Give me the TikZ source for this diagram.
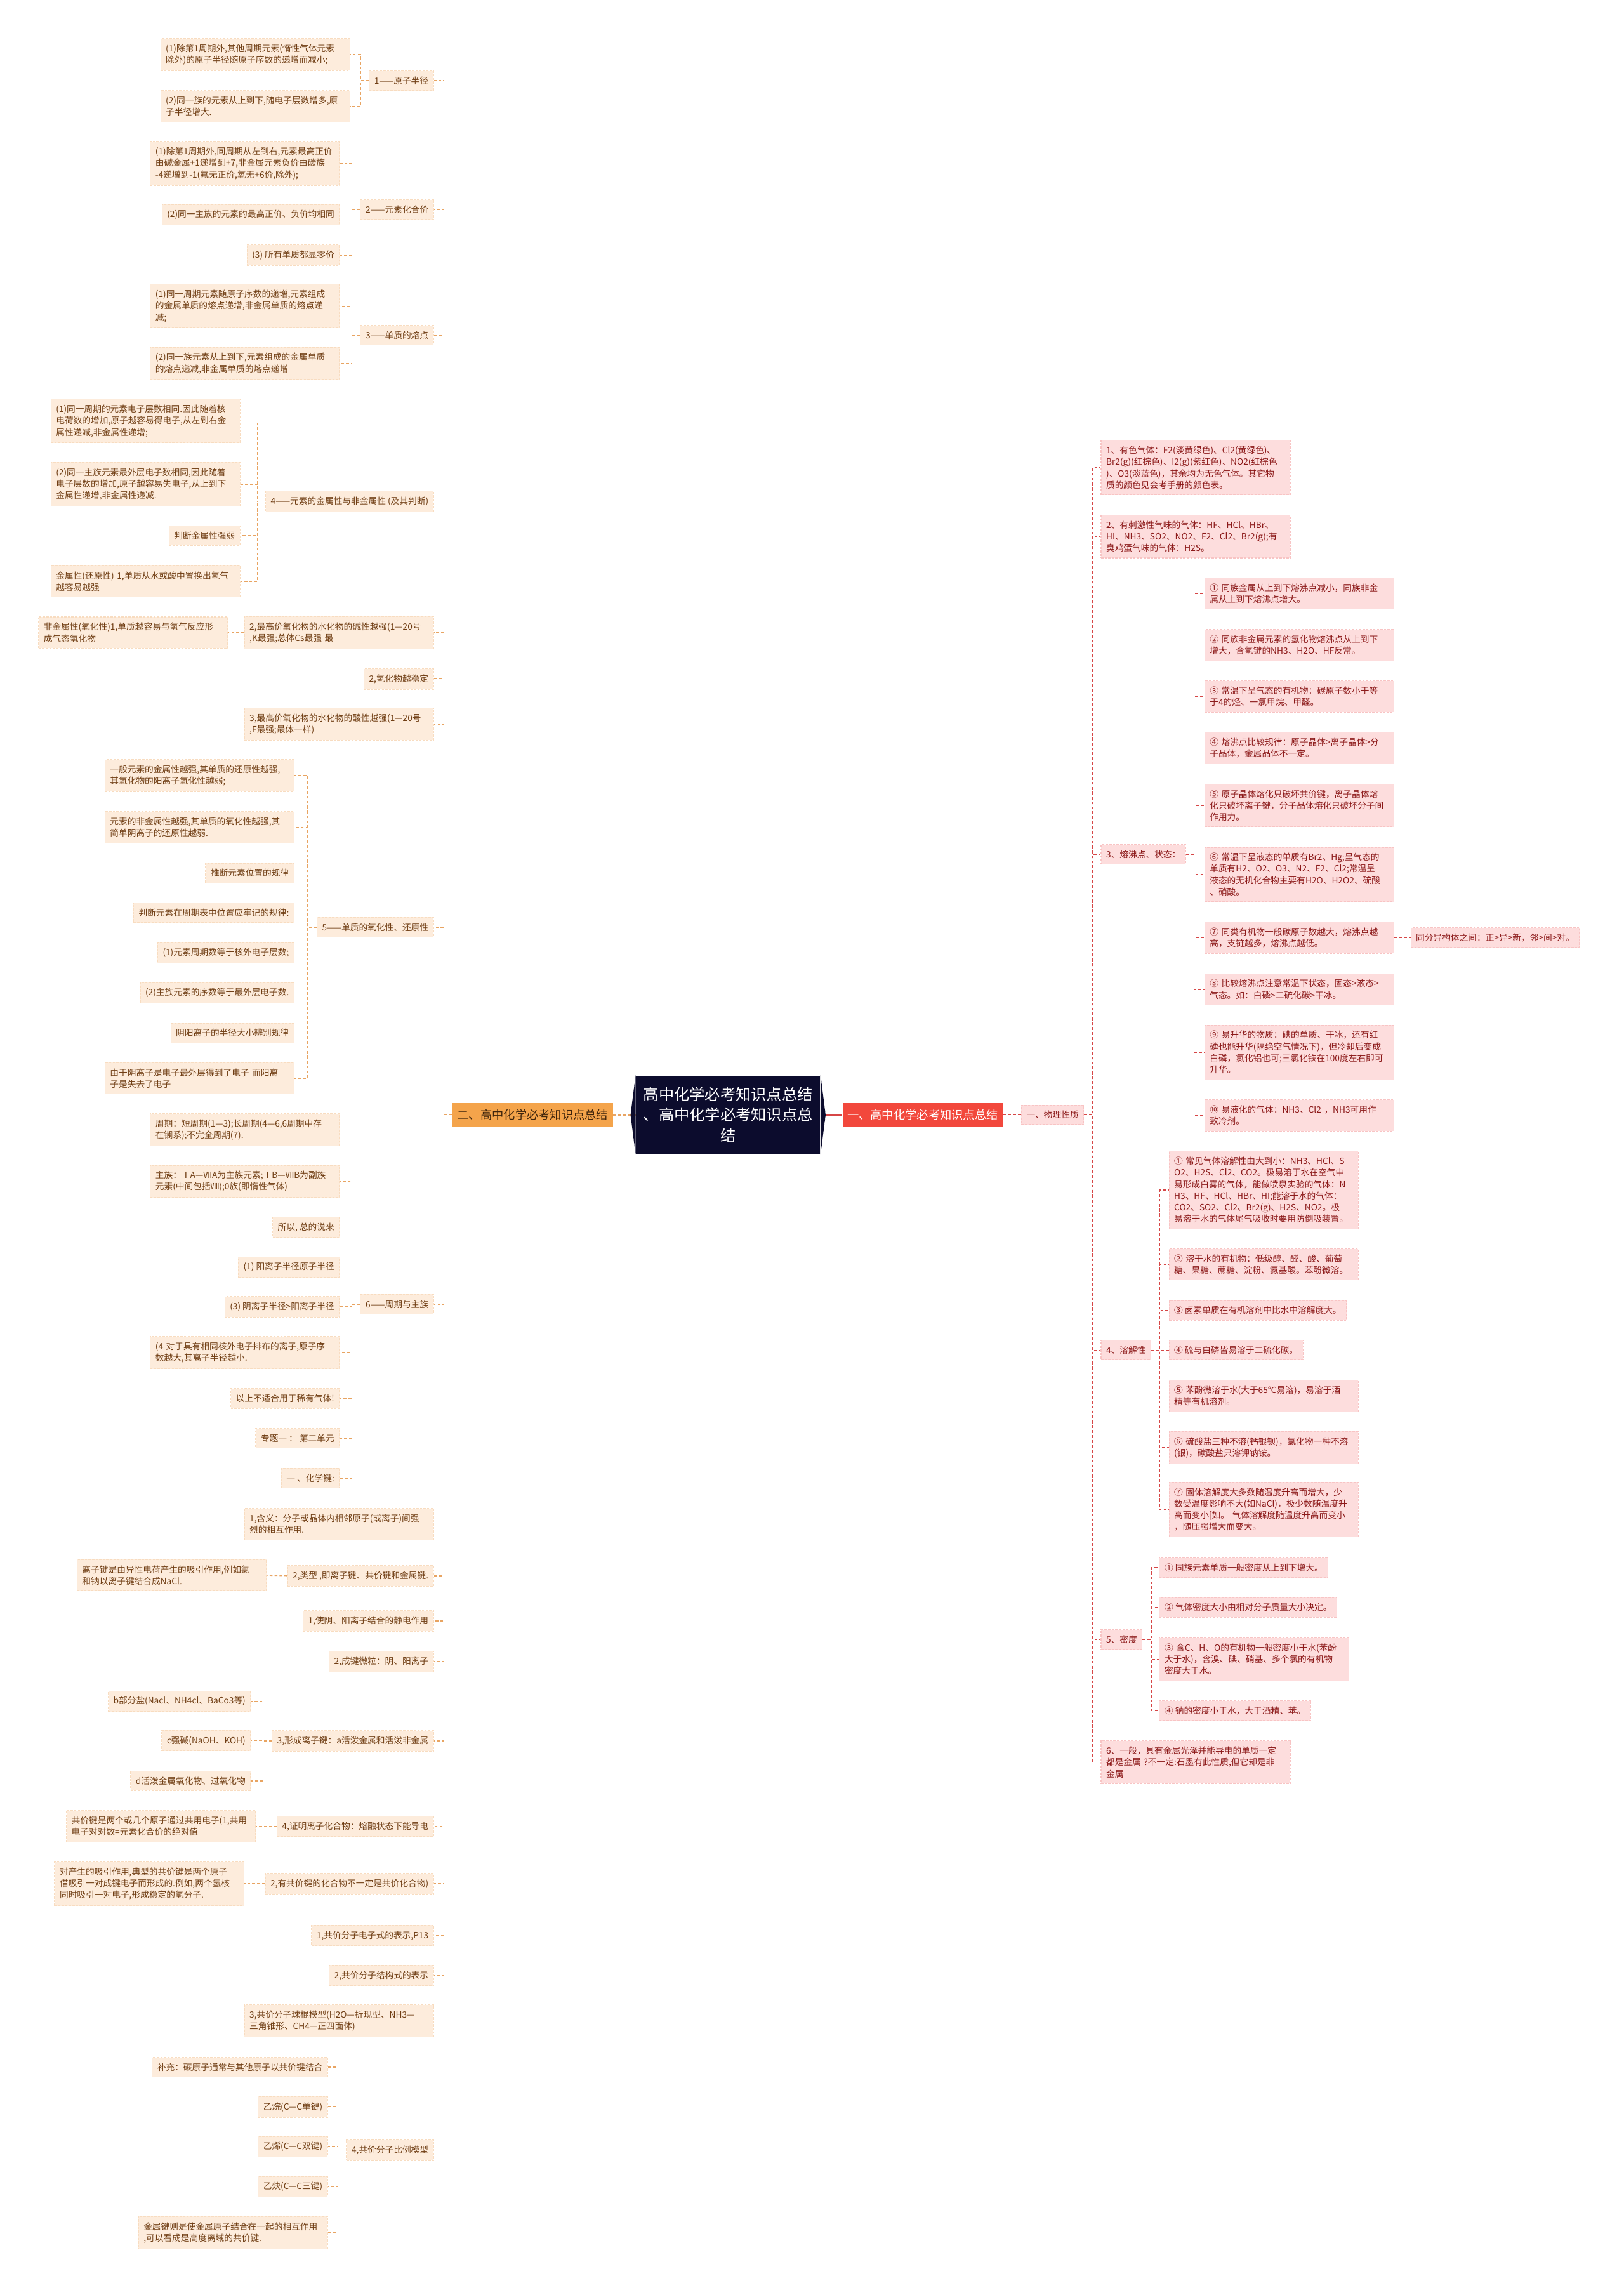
\documentclass[tikz,border=0pt]{standalone}
\usepackage{fontspec}
\setmainfont{Noto Sans CJK SC}
\definecolor{peachc}{RGB}{253,236,220}
\definecolor{peachline}{RGB}{248,220,192}
\definecolor{browntext}{RGB}{112,62,20}
\definecolor{linkbrown}{RGB}{232,164,98}
\definecolor{orangec}{RGB}{244,164,75}
\definecolor{orangetext}{RGB}{62,36,12}
\definecolor{pinkc}{RGB}{253,221,221}
\definecolor{pinkline}{RGB}{248,196,196}
\definecolor{redtext}{RGB}{140,25,25}
\definecolor{linkred}{RGB}{214,70,70}
\definecolor{redc}{RGB}{242,72,60}
\definecolor{rootc}{RGB}{12,12,45}

\begin{document}
\begin{tikzpicture}[x=0.023cm, y=-0.023cm,
  leafL/.style={fill=peachc, draw=peachline, dash pattern=on 1pt off 0.6pt, line width=0.3pt, text=browntext,
    font=\fontsize{3.9}{5.2}\selectfont, inner xsep=2.3pt, inner ysep=2.6pt, anchor=east},
  wideL/.style={leafL, text width=2.82cm, align=left},
  leafR/.style={leafL, fill=pinkc, draw=pinkline, text=redtext, anchor=west},
  wideR/.style={leafR, text width=2.82cm, align=left},
  topL/.style={fill=orangec, text=orangetext, font=\fontsize{5.2}{6}\selectfont, inner xsep=2.1pt, inner ysep=2.8pt, anchor=east},
  topR/.style={topL, fill=redc, text=white, anchor=west},
  rootbox/.style={fill=rootc, text=white, font=\fontsize{6.9}{9.2}\selectfont, align=center, text width=2.72cm,
    minimum width=2.9cm, minimum height=1.24cm, inner sep=0pt},
  lnkL/.style={draw=linkbrown, dash pattern=on 1.3pt off 0.9pt, line width=0.4pt},
  lnkR/.style={lnkL, draw=linkred}]

\fill[white] (0,0) rectangle (1113,1568);
\useasboundingbox (0,0) rectangle (1113,1568);

% --- 中心主题 ---
\node[rootbox] (root) at (499,764) {高中化学必考知识点总结\\、高中化学必考知识点总\\结};
\node[topL] (l2) at (420.3,764) {二、高中化学必考知识点总结};
\node[topR] (l1) at (577.2,764) {一、高中化学必考知识点总结};
\draw[lnkL, line width=0.6pt] (root.west) -- (l2.east);
\draw[lnkR, line width=0.6pt, solid] (root.east) -- (l1.west);
\fill[rootc] (root.north west) -- ([xshift=-0.08cm]root.west) -- (root.south west) -- cycle;
\fill[rootc] (root.north east) -- ([xshift=0.08cm]root.east) -- (root.south east) -- cycle;

% --- 左侧：1——原子半径 ---
\node[wideL] (a1) at (240,37.4) {(1)除第1周期外,其他周期元素(惰性气体元素\\除外)的原子半径随原子序数的递增而减小;};
\node[wideL] (a2) at (240,72.9) {(2)同一族的元素从上到下,随电子层数增多,原\\子半径增大.};
\node[leafL] (g1) at (297.4,55.3) {1——原子半径};
\draw[lnkL] (g1.west) -- ++(-5.7,0) |- (a1.east);
\draw[lnkL] (g1.west) -- ++(-5.7,0) |- (a2.east);

% 2——元素化合价
\node[wideL] (b1) at (232.9,112) {(1)除第1周期外,同周期从左到右,元素最高正价\\由碱金属+1递增到+7,非金属元素负价由碳族\\-4递增到-1(氟无正价,氧无+6价,除外);};
\node[leafL] (b2) at (232.9,147.2) {(2)同一主族的元素的最高正价、负价均相同};
\node[leafL] (b3) at (232.9,174.8) {(3) 所有单质都显零价};
\node[leafL] (g2) at (297.4,143.6) {2——元素化合价};
\draw[lnkL] (g2.west) -- ++(-5.7,0) |- (b1.east);
\draw[lnkL] (g2.west) -- ++(-5.7,0) |- (b2.east);
\draw[lnkL] (g2.west) -- ++(-5.7,0) |- (b3.east);

% 3——单质的熔点
\node[wideL] (c1) at (232.9,209.8) {(1)同一周期元素随原子序数的递增,元素组成\\的金属单质的熔点递增,非金属单质的熔点递\\减;};
\node[wideL] (c2) at (232.9,249) {(2)同一族元素从上到下,元素组成的金属单质\\的熔点递减,非金属单质的熔点递增};
\node[leafL] (g3) at (297.4,229.8) {3——单质的熔点};
\draw[lnkL] (g3.west) -- ++(-5.7,0) |- (c1.east);
\draw[lnkL] (g3.west) -- ++(-5.7,0) |- (c2.east);

% 4——元素的金属性与非金属性
\node[wideL] (d1) at (164.8,288.5) {(1)同一周期的元素电子层数相同.因此随着核\\电荷数的增加,原子越容易得电子,从左到右金\\属性递减,非金属性递增;};
\node[wideL] (d2) at (164.8,331.8) {(2)同一主族元素最外层电子数相同,因此随着\\电子层数的增加,原子越容易失电子,从上到下\\金属性递增,非金属性递减.};
\node[leafL] (d3) at (164.8,367) {判断金属性强弱};
\node[wideL] (d4) at (164.8,398.4) {金属性(还原性) 1,单质从水或酸中置换出氢气\\越容易越强};
\node[leafL] (g4) at (297.4,343.5) {4——元素的金属性与非金属性 (及其判断)};
\draw[lnkL] (g4.west) -- ++(-5.2,0) |- (d1.east);
\draw[lnkL] (g4.west) -- ++(-5.2,0) |- (d2.east);
\draw[lnkL] (g4.west) -- ++(-5.2,0) |- (d3.east);
\draw[lnkL] (g4.west) -- ++(-5.2,0) |- (d4.east);

% 碱性、氢化物、酸性
\node[wideL] (g5a) at (297.4,433.5) {2,最高价氧化物的水化物的碱性越强(1—20号\\,K最强;总体Cs最强 最};
\node[wideL] (e1) at (156.3,433.5) {非金属性(氧化性)1,单质越容易与氢气反应形\\成气态氢化物};
\draw[lnkL] (g5a.west) -- (e1.east);
\node[leafL] (g5b) at (297.4,465.3) {2,氢化物越稳定};
\node[wideL] (g5c) at (297.4,496.3) {3,最高价氧化物的水化物的酸性越强(1—20号\\,F最强;最体一样)};

% 5——单质的氧化性、还原性
\node[wideL] (f1) at (201.8,531.5) {一般元素的金属性越强,其单质的还原性越强,\\其氧化物的阳离子氧化性越弱;};
\node[wideL] (f2) at (201.8,567) {元素的非金属性越强,其单质的氧化性越强,其\\简单阴离子的还原性越弱.};
\node[leafL] (f3) at (201.8,598.3) {推断元素位置的规律};
\node[leafL] (f4) at (201.8,625.6) {判断元素在周期表中位置应牢记的规律:};
\node[leafL] (f5) at (201.8,653) {(1)元素周期数等于核外电子层数;};
\node[leafL] (f6) at (201.8,680.4) {(2)主族元素的序数等于最外层电子数.};
\node[leafL] (f7) at (201.8,707.9) {阴阳离子的半径大小辨别规律};
\node[wideL] (f8) at (201.8,739) {由于阴离子是电子最外层得到了电子 而阳离\\子是失去了电子};
\node[leafL] (g6) at (297.4,635.4) {5——单质的氧化性、还原性};
\draw[lnkL] (g6.west) -- ++(-6.1,0) |- (f1.east);
\draw[lnkL] (g6.west) -- ++(-6.1,0) |- (f2.east);
\draw[lnkL] (g6.west) -- ++(-6.1,0) |- (f3.east);
\draw[lnkL] (g6.west) -- ++(-6.1,0) |- (f4.east);
\draw[lnkL] (g6.west) -- ++(-6.1,0) |- (f5.east);
\draw[lnkL] (g6.west) -- ++(-6.1,0) |- (f6.east);
\draw[lnkL] (g6.west) -- ++(-6.1,0) |- (f7.east);
\draw[lnkL] (g6.west) -- ++(-6.1,0) |- (f8.east);

% 6——周期与主族
\node[wideL] (h1) at (232.9,774.3) {周期：短周期(1—3);长周期(4—6,6周期中存\\在镧系);不完全周期(7).};
\node[wideL] (h2) at (232.9,809.6) {主族：ⅠA—ⅦA为主族元素;ⅠB—ⅦB为副族\\元素(中间包括Ⅷ);0族(即惰性气体)};
\node[leafL] (h3) at (232.9,841) {所以, 总的说来};
\node[leafL] (h4) at (232.9,868.3) {(1) 阳离子半径原子半径};
\node[leafL] (h5) at (232.9,895.6) {(3) 阴离子半径>阳离子半径};
\node[wideL] (h6) at (232.9,927) {(4 对于具有相同核外电子排布的离子,原子序\\数越大,其离子半径越小.};
\node[leafL] (h7) at (232.9,958.4) {以上不适合用于稀有气体!};
\node[leafL] (h8) at (232.9,985.7) {专题一 ： 第二单元};
\node[leafL] (h9) at (232.9,1013) {一 、化学键:};
\node[leafL] (g7) at (297.4,893.8) {6——周期与主族};
\draw[lnkL] (g7.west) -- ++(-5.7,0) |- (h1.east);
\draw[lnkL] (g7.west) -- ++(-5.7,0) |- (h2.east);
\draw[lnkL] (g7.west) -- ++(-5.7,0) |- (h3.east);
\draw[lnkL] (g7.west) -- ++(-5.7,0) |- (h4.east);
\draw[lnkL] (g7.west) -- ++(-5.7,0) |- (h5.east);
\draw[lnkL] (g7.west) -- ++(-5.7,0) |- (h6.east);
\draw[lnkL] (g7.west) -- ++(-5.7,0) |- (h7.east);
\draw[lnkL] (g7.west) -- ++(-5.7,0) |- (h8.east);
\draw[lnkL] (g7.west) -- ++(-5.7,0) |- (h9.east);

% 化学键
\node[wideL] (i1) at (297.4,1044.5) {1,含义：分子或晶体内相邻原子(或离子)间强\\烈的相互作用.};
\node[leafL] (i2) at (297.4,1079.9) {2,类型 ,即离子键、共价键和金属键.};
\node[wideL] (j1) at (182.7,1079.6) {离子键是由异性电荷产生的吸引作用,例如氯\\和钠以离子键结合成NaCl.};
\draw[lnkL] (i2.west) -- (j1.east);
\node[leafL] (i3) at (297.4,1110.9) {1,使阴、阳离子结合的静电作用};
\node[leafL] (i4) at (297.4,1138.7) {2,成键微粒：阴、阳离子};
\node[leafL] (i5) at (297.4,1193) {3,形成离子键：a活泼金属和活泼非金属};
\node[leafL] (k1) at (172,1165.8) {b部分盐(Nacl、NH4cl、BaCo3等)};
\node[leafL] (k2) at (172,1192.9) {c强碱(NaOH、KOH)};
\node[leafL] (k3) at (172,1220.4) {d活泼金属氧化物、过氧化物};
\draw[lnkL] (i5.west) -- ++(-5.9,0) |- (k1.east);
\draw[lnkL] (i5.west) -- ++(-5.9,0) |- (k2.east);
\draw[lnkL] (i5.west) -- ++(-5.9,0) |- (k3.east);
\node[leafL] (i6) at (297.4,1251.6) {4,证明离子化合物：熔融状态下能导电};
\node[wideL] (l3) at (175.4,1251.6) {共价键是两个或几个原子通过共用电子(1,共用\\电子对对数=元素化合价的绝对值};
\draw[lnkL] (i6.west) -- (l3.east);
\node[leafL] (i7) at (297.4,1291) {2,有共价键的化合物不一定是共价化合物)};
\node[wideL] (m1) at (167.3,1291) {对产生的吸引作用,典型的共价键是两个原子\\借吸引一对成键电子而形成的.例如,两个氢核\\同时吸引一对电子,形成稳定的氢分子.};
\draw[lnkL] (i7.west) -- (m1.east);
\node[leafL] (i8) at (297.4,1326.4) {1,共价分子电子式的表示,P13};
\node[leafL] (i9) at (297.4,1353.8) {2,共价分子结构式的表示};
\node[wideL] (i10) at (297.4,1385) {3,共价分子球棍模型(H2O—折现型、NH3—\\三角锥形、CH4—正四面体)};
\node[leafL] (i11) at (297.4,1473.5) {4,共价分子比例模型};
\node[leafL] (n1) at (224.8,1416.7) {补充：碳原子通常与其他原子以共价键结合};
\node[leafL] (n2) at (224.8,1443.9) {乙烷(C—C单键)};
\node[leafL] (n3) at (224.8,1471.1) {乙烯(C—C双键)};
\node[leafL] (n4) at (224.8,1498.5) {乙炔(C—C三键)};
\node[wideL] (n5) at (224.8,1530) {金属键则是使金属原子结合在一起的相互作用\\,可以看成是高度离域的共价键.};
\draw[lnkL] (i11.west) -- ++(-5.6,0) |- (n1.east);
\draw[lnkL] (i11.west) -- ++(-5.6,0) |- (n2.east);
\draw[lnkL] (i11.west) -- ++(-5.6,0) |- (n3.east);
\draw[lnkL] (i11.west) -- ++(-5.6,0) |- (n4.east);
\draw[lnkL] (i11.west) -- ++(-5.6,0) |- (n5.east);

% 左侧主干
\draw[lnkL] (l2.west) -- ++(-5.7,0) |- (g1.east);
\draw[lnkL] (l2.west) -- ++(-5.7,0) |- (g2.east);
\draw[lnkL] (l2.west) -- ++(-5.7,0) |- (g3.east);
\draw[lnkL] (l2.west) -- ++(-5.7,0) |- (g4.east);
\draw[lnkL] (l2.west) -- ++(-5.7,0) |- (g5a.east);
\draw[lnkL] (l2.west) -- ++(-5.7,0) |- (g5b.east);
\draw[lnkL] (l2.west) -- ++(-5.7,0) |- (g5c.east);
\draw[lnkL] (l2.west) -- ++(-5.7,0) |- (g6.east);
\draw[lnkL] (l2.west) -- ++(-5.7,0) |- (g7.east);
\draw[lnkL] (l2.west) -- ++(-5.7,0) |- (i1.east);
\draw[lnkL] (l2.west) -- ++(-5.7,0) |- (i2.east);
\draw[lnkL] (l2.west) -- ++(-5.7,0) |- (i3.east);
\draw[lnkL] (l2.west) -- ++(-5.7,0) |- (i4.east);
\draw[lnkL] (l2.west) -- ++(-5.7,0) |- (i5.east);
\draw[lnkL] (l2.west) -- ++(-5.7,0) |- (i6.east);
\draw[lnkL] (l2.west) -- ++(-5.7,0) |- (i7.east);
\draw[lnkL] (l2.west) -- ++(-5.7,0) |- (i8.east);
\draw[lnkL] (l2.west) -- ++(-5.7,0) |- (i9.east);
\draw[lnkL] (l2.west) -- ++(-5.7,0) |- (i10.east);
\draw[lnkL] (l2.west) -- ++(-5.7,0) |- (i11.east);

% --- 右侧：一、物理性质 ---
\node[leafR] (r0) at (699.8,764) {一、物理性质};
\draw[lnkR] (l1.east) -- (r0.west);
\node[wideR] (r1) at (754.4,320.5) {1、有色气体：F2(淡黄绿色)、Cl2(黄绿色)、\\Br2(g)(红棕色)、I2(g)(紫红色)、NO2(红棕色\\)、O3(淡蓝色)，其余均为无色气体。其它物\\质的颜色见会考手册的颜色表。};
\node[wideR] (r2) at (754.4,367.6) {2、有刺激性气味的气体：HF、HCl、HBr、\\HI、NH3、SO2、NO2、F2、Cl2、Br2(g);有\\臭鸡蛋气味的气体：H2S。};
\node[leafR] (r3) at (754.4,585.6) {3、熔沸点、状态：};
\node[leafR] (r4) at (754.4,925.3) {4、溶解性};
\node[leafR] (r5) at (754.4,1123.5) {5、密度};
\node[wideR] (r6) at (754.4,1207.7) {6、一般，具有金属光泽并能导电的单质一定\\都是金属 ?不一定:石墨有此性质,但它却是非\\金属};
\draw[lnkR] (r0.east) -- ++(5.8,0) |- (r1.west);
\draw[lnkR] (r0.east) -- ++(5.8,0) |- (r2.west);
\draw[lnkR] (r0.east) -- ++(5.8,0) |- (r3.west);
\draw[lnkR] (r0.east) -- ++(5.8,0) |- (r4.west);
\draw[lnkR] (r0.east) -- ++(5.8,0) |- (r5.west);
\draw[lnkR] (r0.east) -- ++(5.8,0) |- (r6.west);

% 3、熔沸点、状态
\node[wideR] (s1) at (825.4,406.7) {① 同族金属从上到下熔沸点减小，同族非金\\属从上到下熔沸点增大。};
\node[wideR] (s2) at (825.4,442.2) {② 同族非金属元素的氢化物熔沸点从上到下\\增大，含氢键的NH3、H2O、HF反常。};
\node[wideR] (s3) at (825.4,477.4) {③ 常温下呈气态的有机物：碳原子数小于等\\于4的烃、一氯甲烷、甲醛。};
\node[wideR] (s4) at (825.4,512.6) {④ 熔沸点比较规律：原子晶体>离子晶体>分\\子晶体，金属晶体不一定。};
\node[wideR] (s5) at (825.4,552) {⑤ 原子晶体熔化只破坏共价键，离子晶体熔\\化只破坏离子键，分子晶体熔化只破坏分子间\\作用力。};
\node[wideR] (s6) at (825.4,599.3) {⑥ 常温下呈液态的单质有Br2、Hg;呈气态的\\单质有H2、O2、O3、N2、F2、Cl2;常温呈\\液态的无机化合物主要有H2O、H2O2、硫酸\\、硝酸。};
\node[wideR] (s7) at (825.4,642.5) {⑦ 同类有机物一般碳原子数越大，熔沸点越\\高，支链越多，熔沸点越低。};
\node[leafR] (t1) at (966.7,642.5) {同分异构体之间：正>异>新，邻>间>对。};
\node[wideR] (s8) at (825.4,678) {⑧ 比较熔沸点注意常温下状态，固态>液态>\\气态。如：白磷>二硫化碳>干冰。};
\node[wideR] (s9) at (825.4,721.2) {⑨ 易升华的物质：碘的单质、干冰，还有红\\磷也能升华(隔绝空气情况下)，但冷却后变成\\白磷，氯化铝也可;三氯化铁在100度左右即可\\升华。};
\node[wideR] (s10) at (825.4,764.4) {⑩ 易液化的气体：NH3、Cl2 ，NH3可用作\\致冷剂。};
\draw[lnkR] (r3.east) -- ++(5.4,0) |- (s1.west);
\draw[lnkR] (r3.east) -- ++(5.4,0) |- (s2.west);
\draw[lnkR] (r3.east) -- ++(5.4,0) |- (s3.west);
\draw[lnkR] (r3.east) -- ++(5.4,0) |- (s4.west);
\draw[lnkR] (r3.east) -- ++(5.4,0) |- (s5.west);
\draw[lnkR] (r3.east) -- ++(5.4,0) |- (s6.west);
\draw[lnkR] (r3.east) -- ++(5.4,0) |- (s7.west);
\draw[lnkR] (r3.east) -- ++(5.4,0) |- (s8.west);
\draw[lnkR] (r3.east) -- ++(5.4,0) |- (s9.west);
\draw[lnkR] (r3.east) -- ++(5.4,0) |- (s10.west);
\draw[lnkR] (s7.east) -- (t1.west);

% 4、溶解性
\node[wideR] (u1) at (801,815.5) {① 常见气体溶解性由大到小：NH3、HCl、S\\O2、H2S、Cl2、CO2。极易溶于水在空气中\\易形成白雾的气体，能做喷泉实验的气体：N\\H3、HF、HCl、HBr、HI;能溶于水的气体：\\CO2、SO2、Cl2、Br2(g)、H2S、NO2。极\\易溶于水的气体尾气吸收时要用防倒吸装置。};
\node[wideR] (u2) at (801,866.5) {② 溶于水的有机物：低级醇、醛、酸、葡萄\\糖、果糖、蔗糖、淀粉、氨基酸。苯酚微溶。};
\node[leafR] (u3) at (801,898) {③ 卤素单质在有机溶剂中比水中溶解度大。};
\node[leafR] (u4) at (801,925.3) {④ 硫与白磷皆易溶于二硫化碳。};
\node[wideR] (u5) at (801,956.7) {⑤ 苯酚微溶于水(大于65℃易溶)，易溶于酒\\精等有机溶剂。};
\node[wideR] (u6) at (801,992) {⑥ 硫酸盐三种不溶(钙银钡)，氯化物一种不溶\\(银)，碳酸盐只溶钾钠铵。};
\node[wideR] (u7) at (801,1034.5) {⑦ 固体溶解度大多数随温度升高而增大，少\\数受温度影响不大(如NaCl)，极少数随温度升\\高而变小[如。 气体溶解度随温度升高而变小\\，随压强增大而变大。};
\draw[lnkR] (r4.east) -- ++(5.8,0) |- (u1.west);
\draw[lnkR] (r4.east) -- ++(5.8,0) |- (u2.west);
\draw[lnkR] (r4.east) -- ++(5.8,0) |- (u3.west);
\draw[lnkR] (r4.east) -- ++(5.8,0) |- (u4.west);
\draw[lnkR] (r4.east) -- ++(5.8,0) |- (u5.west);
\draw[lnkR] (r4.east) -- ++(5.8,0) |- (u6.west);
\draw[lnkR] (r4.east) -- ++(5.8,0) |- (u7.west);

% 5、密度
\node[leafR] (v1) at (794.4,1074.4) {① 同族元素单质一般密度从上到下增大。};
\node[leafR] (v2) at (794.4,1101.6) {② 气体密度大小由相对分子质量大小决定。};
\node[wideR] (v3) at (794.4,1137.1) {③ 含C、H、O的有机物一般密度小于水(苯酚\\大于水)，含溴、碘、硝基、多个氯的有机物\\密度大于水。};
\node[leafR] (v4) at (794.4,1172.3) {④ 钠的密度小于水，大于酒精、苯。};
\draw[lnkR] (r5.east) -- ++(5.9,0) |- (v1.west);
\draw[lnkR] (r5.east) -- ++(5.9,0) |- (v2.west);
\draw[lnkR] (r5.east) -- ++(5.9,0) |- (v3.west);
\draw[lnkR] (r5.east) -- ++(5.9,0) |- (v4.west);
\end{tikzpicture}
\end{document}
